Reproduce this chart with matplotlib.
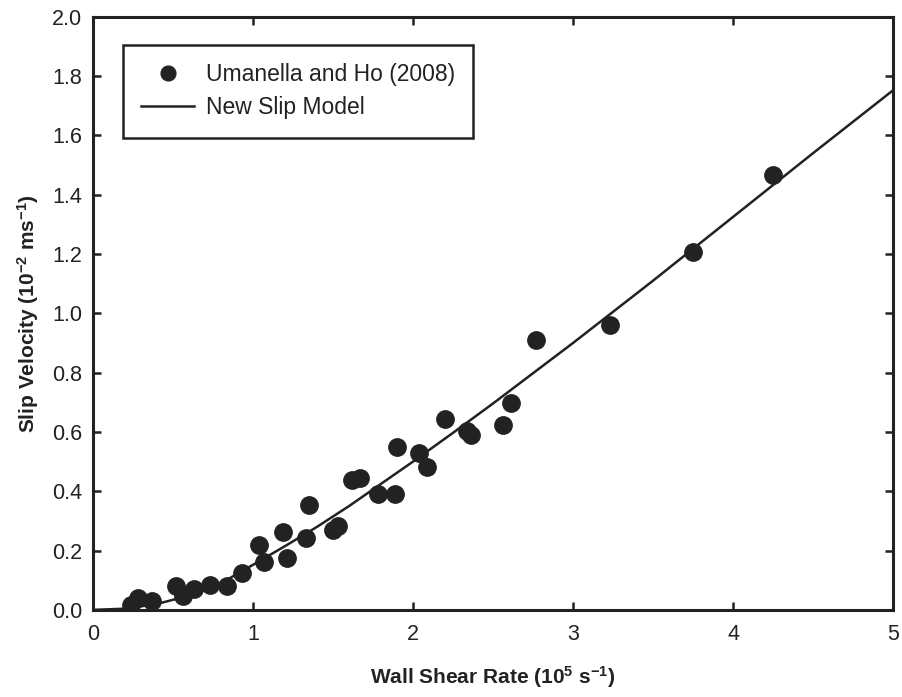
# slip velocity vs wall shear rate

import matplotlib
matplotlib.use('Agg')
import matplotlib.pyplot as plt
import numpy as np

plt.rcParams['font.family'] = 'Liberation Sans'
plt.rcParams['mathtext.fontset'] = 'custom'
plt.rcParams['mathtext.rm'] = 'Liberation Sans:bold'
plt.rcParams['mathtext.it'] = 'Liberation Sans:bold'
plt.rcParams['mathtext.bf'] = 'Liberation Sans:bold'

# Umanella and Ho (2008) measurements
exp_shear = [0.24, 0.28, 0.37, 0.52, 0.56, 0.63, 0.73, 0.84, 0.93, 1.04, 1.07,
             1.19, 1.21, 1.33, 1.35, 1.50, 1.53, 1.62, 1.67, 1.78, 1.89, 1.90,
             2.04, 2.09, 2.20, 2.34, 2.36, 2.56, 2.61, 2.77, 3.23, 3.75, 4.25]
exp_slip = [0.017, 0.039, 0.030, 0.079, 0.048, 0.070, 0.085, 0.082, 0.124, 0.220, 0.161,
            0.262, 0.174, 0.244, 0.355, 0.270, 0.284, 0.437, 0.443, 0.390, 0.391, 0.550,
            0.530, 0.482, 0.642, 0.603, 0.589, 0.623, 0.696, 0.909, 0.961, 1.208, 1.468]

# new slip model curve
model_shear = [0.0, 0.2, 0.4, 0.6, 0.8, 1.0, 1.2, 1.4, 1.6, 1.8, 2.0,
               2.25, 2.5, 2.75, 3.0, 3.5, 4.0, 4.5, 5.0]
model_slip = [0.0, 0.004, 0.02, 0.048, 0.09, 0.152, 0.215, 0.28, 0.35, 0.425, 0.50,
              0.597, 0.696, 0.798, 0.90, 1.11, 1.325, 1.54, 1.752]

fig = plt.figure(figsize=(9.03, 6.97), dpi=100)
ax = fig.add_axes([0.103, 0.125, 0.886, 0.851])

ax.plot(exp_shear, exp_slip, 'o', color='#222222', markersize=12.5,
        label='Umanella and Ho (2008)')
ax.plot(model_shear, model_slip, '-', color='#222222', linewidth=1.8,
        label='New Slip Model')

ax.set_xlim(0, 5)
ax.set_ylim(0, 2.0)
ax.set_xticks(np.arange(0, 6, 1))
ax.set_yticks(np.arange(0, 2.01, 0.2))
ax.set_yticklabels([f'{v:.1f}' for v in np.arange(0, 2.01, 0.2)])

ax.tick_params(direction='in', length=6, width=1.8, labelsize=15.5,
               top=True, right=True, pad=8, colors='#222222')
ax.tick_params(axis='x', pad=10)
for sp in ax.spines.values():
    sp.set_linewidth(2.2)
    sp.set_color('#222222')

ax.set_xlabel(r'Wall Shear Rate (10$^{5}$ s$^{-1}$)', fontsize=15, fontweight='bold',
              labelpad=14, color='#222222')
ax.set_ylabel(r'Slip Velocity (10$^{-2}$ ms$^{-1}$)', fontsize=15, fontweight='bold',
              labelpad=8, color='#222222')

leg = ax.legend(loc='upper left', bbox_to_anchor=(0.0375, 0.953), borderaxespad=0,
                fontsize=16.5, markerscale=0.85, handlelength=2.3, handletextpad=0.5,
                borderpad=0.8, labelspacing=0.45, fancybox=False, framealpha=1)
leg.get_frame().set_edgecolor('#222222')
leg.get_frame().set_linewidth(1.8)
for t in leg.get_texts():
    t.set_color('#222222')

plt.savefig('out.png', dpi=100)
